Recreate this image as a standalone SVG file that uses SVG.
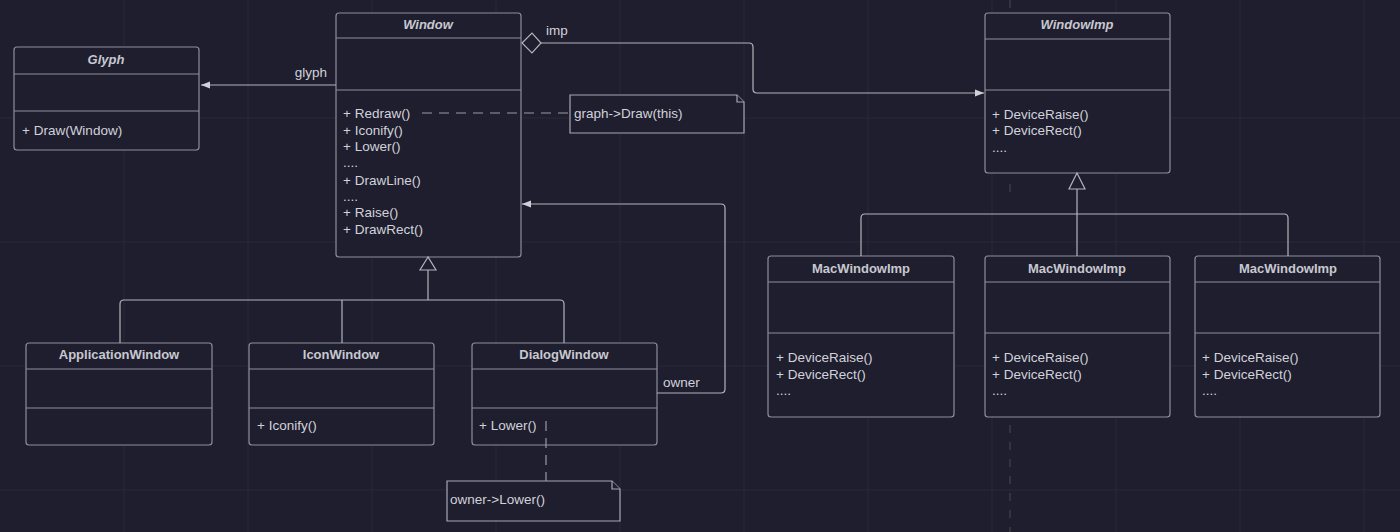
<svg xmlns="http://www.w3.org/2000/svg" width="1400" height="532" viewBox="0 0 1400 532">
<defs>
<style>
.bg{fill:#1e1e2e}
.grid{stroke:#282838;stroke-width:1}
.box{fill:#1e1e2e;stroke:#8e8e9a;stroke-width:1.2}
.div{stroke:#8e8e9a;stroke-width:1.2}
.t{font-family:"Liberation Sans",Arial,sans-serif;font-size:13.5px;fill:#d2d2da}
.title{font-family:"Liberation Sans",Arial,sans-serif;font-size:13px;font-weight:bold;fill:#c8c8d0;text-anchor:middle}
.it{font-style:italic}
.con{fill:none;stroke:#b4b4bc;stroke-width:1.2}
.dash{fill:none;stroke:#9a9aa4;stroke-width:1.2;stroke-dasharray:10 7}
.note{fill:#1e1e2e;stroke:#a8a8b2;stroke-width:1.2}
</style>
<marker id="arr" viewBox="0 0 10 10" refX="10" refY="5" markerWidth="9" markerHeight="9" markerUnits="userSpaceOnUse" orient="auto">
<path d="M0,1 L10,5 L0,9 z" fill="#d0d0d8"/>
</marker>
</defs>
<rect class="bg" x="0" y="0" width="1400" height="532"/>
<g id="grid">
<path class="grid" d="M124,0V532M248,0V532M372,0V532M496,0V532M620,0V532M744,0V532M868,0V532M992,0V532M1116,0V532M1240,0V532M1364,0V532M0,118H1400M0,242H1400M0,366H1400M0,490H1400"/>
<path d="M1010,425V532M1010,0V12M1010,184V200" stroke="#34343c" stroke-width="2" stroke-dasharray="8 9"/>
</g>
<g id="glyph">
<rect class="box" x="14" y="47" width="185" height="103" rx="3"/>
<path class="div" d="M14,74H199M14,111H199"/>
<text class="title it" x="106" y="64">Glyph</text>
<text class="t" x="22" y="135">+ Draw(Window)</text>
</g>
<g id="window">
<rect class="box" x="336" y="13" width="185" height="244" rx="3"/>
<path class="div" d="M336,38H521M336,90H521"/>
<text class="title it" x="428" y="29">Window</text>
<text class="t" x="343" y="118">+ Redraw()</text>
<text class="t" x="343" y="135">+ Iconify()</text>
<text class="t" x="343" y="151">+ Lower()</text>
<text class="t" x="343" y="167">....</text>
<text class="t" x="343" y="185">+ DrawLine()</text>
<text class="t" x="343" y="201">....</text>
<text class="t" x="343" y="217">+ Raise()</text>
<text class="t" x="343" y="234">+ DrawRect()</text>
</g>
<g id="note-draw">
<path class="note" d="M570,95H737L744,102V133H570Z"/>
<path class="note" d="M737,95V102H744" fill="none"/>
<text class="t" x="574" y="118">graph-&gt;Draw(this)</text>
</g>
<g id="windowimp">
<rect class="box" x="985" y="13" width="185" height="160" rx="3"/>
<path class="div" d="M985,39H1170M985,90H1170"/>
<text class="title it" x="1077" y="29">WindowImp</text>
<text class="t" x="992" y="119">+ DeviceRaise()</text>
<text class="t" x="992" y="135">+ DeviceRect()</text>
<text class="t" x="992" y="152">....</text>
</g>
<g id="applicationwindow">
<rect class="box" x="26" y="343" width="186" height="102" rx="3"/>
<path class="div" d="M26,369H212M26,408H212"/>
<text class="title" x="119" y="359">ApplicationWindow</text>
</g>
<g id="iconwindow">
<rect class="box" x="249" y="343" width="185" height="102" rx="3"/>
<path class="div" d="M249,369H434M249,408H434"/>
<text class="title" x="341" y="359">IconWindow</text>
<text class="t" x="257" y="430">+ Iconify()</text>
</g>
<g id="dialogwindow">
<rect class="box" x="472" y="343" width="185" height="102" rx="3"/>
<path class="div" d="M472,369H657M472,408H657"/>
<text class="title" x="564" y="359">DialogWindow</text>
<text class="t" x="479" y="430">+ Lower()</text>
</g>
<g id="note-lower">
<path class="note" d="M447,481H612L620,489V521H447Z"/>
<path class="note" d="M612,481V489H620" fill="none"/>
<text class="t" x="450" y="504">owner-&gt;Lower()</text>
</g>
<g id="macwindowimp1">
<rect class="box" x="768" y="256" width="186" height="161" rx="3"/>
<path class="div" d="M768,282H954M768,333H954"/>
<text class="title" x="861" y="273">MacWindowImp</text>
<text class="t" x="776" y="362">+ DeviceRaise()</text>
<text class="t" x="776" y="379">+ DeviceRect()</text>
<text class="t" x="776" y="395">....</text>
</g>
<g id="macwindowimp2">
<rect class="box" x="985" y="256" width="185" height="161" rx="3"/>
<path class="div" d="M985,282H1170M985,333H1170"/>
<text class="title" x="1077" y="273">MacWindowImp</text>
<text class="t" x="992" y="362">+ DeviceRaise()</text>
<text class="t" x="992" y="379">+ DeviceRect()</text>
<text class="t" x="992" y="395">....</text>
</g>
<g id="macwindowimp3">
<rect class="box" x="1195" y="256" width="185" height="161" rx="3"/>
<path class="div" d="M1195,282H1380M1195,333H1380"/>
<text class="title" x="1288" y="273">MacWindowImp</text>
<text class="t" x="1202" y="362">+ DeviceRaise()</text>
<text class="t" x="1202" y="379">+ DeviceRect()</text>
<text class="t" x="1202" y="395">....</text>
</g>
<g id="connectors">
<path class="con" d="M336,85H201" marker-end="url(#arr)"/>
<text class="t" x="327" y="77" text-anchor="end">glyph</text>
<path class="con" d="M541,43H749Q753,43 753,47V89Q753,93 757,93H984" marker-end="url(#arr)"/>
<polygon points="522,43 532,33 541,43 532,53" fill="#1e1e2e" stroke="#b4b4bc" stroke-width="1.2"/>
<text class="t" x="546" y="35">imp</text>
<path class="dash" d="M422,113H570"/>
<path class="con" d="M428,270V300M120,343V304Q120,300 124,300H560Q564,300 564,304V343M342,300V343"/>
<polygon points="428,257 420,270 436,270" fill="#1e1e2e" stroke="#b4b4bc" stroke-width="1.2"/>
<path class="con" d="M657,393H721Q725,393 725,389V208Q725,204 721,204H522" marker-end="url(#arr)"/>
<text class="t" x="663" y="387">owner</text>
<path class="dash" d="M546,421V481"/>
<path class="con" d="M1077,189V214M861,256V218Q861,214 865,214H1284Q1288,214 1288,218V256M1077,214V256"/>
<polygon points="1077,173 1069,189 1085,189" fill="#1e1e2e" stroke="#b4b4bc" stroke-width="1.2"/>
</g>
</svg>
